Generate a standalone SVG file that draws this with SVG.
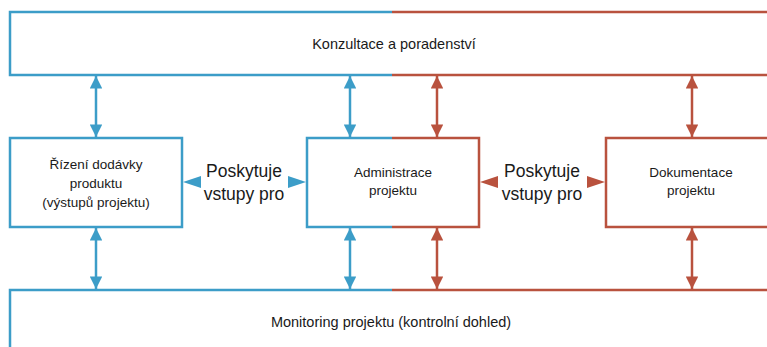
<svg xmlns="http://www.w3.org/2000/svg" width="767" height="347" viewBox="0 0 767 347">
<style>
.b{fill:none;stroke:#3c9dc8;stroke-width:2.5}
.r{fill:none;stroke:#b9523e;stroke-width:2.5}
.hb{fill:#3c9dc8}
.hr{fill:#b9523e}
text{font-family:"Liberation Sans",Arial,sans-serif;fill:#1a1a1a;text-anchor:middle}
.s{font-size:13.5px}
.w{font-size:14.5px}
.l{font-size:17.5px}
</style>
<defs>
<marker id="mb" viewBox="0 0 10 10" refX="10" refY="5" markerWidth="6" markerHeight="5" markerUnits="strokeWidth" orient="auto-start-reverse"><path d="M0,0L10,5L0,10z" fill="#3c9dc8"/></marker>
<marker id="mr" viewBox="0 0 10 10" refX="10" refY="5" markerWidth="6" markerHeight="5" markerUnits="strokeWidth" orient="auto-start-reverse"><path d="M0,0L10,5L0,10z" fill="#b9523e"/></marker>
</defs>
<rect width="767" height="347" fill="#ffffff"/>
<g id="konzultace">
<path class="b" d="M392,12H10V75H392"/>
<path class="r" d="M392,12H770M392,75H770"/>
<text class="w" x="394" y="49">Konzultace a poradenství</text>
</g>
<g id="rizeni">
<rect class="b" x="10" y="138" width="172" height="89"/>
<text class="s" x="96" y="169">Řízení dodávky</text>
<text class="s" x="96" y="188">produktu</text>
<text class="s" x="96" y="207">(výstupů projektu)</text>
</g>
<g id="administrace">
<path class="b" d="M392,138H307V227H392"/>
<path class="r" d="M392,138H479V227H392"/>
<text class="s" x="393" y="177">Administrace</text>
<text class="s" x="393" y="195">projektu</text>
</g>
<g id="dokumentace">
<path class="r" d="M770,138H606V227H770"/>
<text class="s" x="691" y="177">Dokumentace</text>
<text class="s" x="691" y="195">projektu</text>
</g>
<g id="monitoring">
<path class="b" d="M392,290H10V350"/>
<path class="r" d="M392,290H770"/>
<text class="w" x="391" y="327">Monitoring projektu (kontrolní dohled)</text>
</g>
<g id="connectors">
<line class="b" x1="96" y1="76" x2="96" y2="137" marker-start="url(#mb)" marker-end="url(#mb)"/>
<line class="b" x1="350" y1="76" x2="350" y2="137" marker-start="url(#mb)" marker-end="url(#mb)"/>
<line class="r" x1="437" y1="76" x2="437" y2="137" marker-start="url(#mr)" marker-end="url(#mr)"/>
<line class="r" x1="692" y1="76" x2="692" y2="137" marker-start="url(#mr)" marker-end="url(#mr)"/>
<line class="b" x1="96" y1="228" x2="96" y2="289" marker-start="url(#mb)" marker-end="url(#mb)"/>
<line class="b" x1="350" y1="228" x2="350" y2="289" marker-start="url(#mb)" marker-end="url(#mb)"/>
<line class="r" x1="437" y1="228" x2="437" y2="289" marker-start="url(#mr)" marker-end="url(#mr)"/>
<line class="r" x1="692" y1="228" x2="692" y2="289" marker-start="url(#mr)" marker-end="url(#mr)"/>
<path class="hb" d="M183,182L201,176V188z"/>
<path class="hb" d="M306,182L288,176V188z"/>
<path class="hr" d="M480,182L498,176V188z"/>
<path class="hr" d="M605,182L587,176V188z"/>
<text class="l" x="244" y="177">Poskytuje</text>
<text class="l" x="244" y="200">vstupy pro</text>
<text class="l" x="542" y="177">Poskytuje</text>
<text class="l" x="542" y="200">vstupy pro</text>
</g>
</svg>
